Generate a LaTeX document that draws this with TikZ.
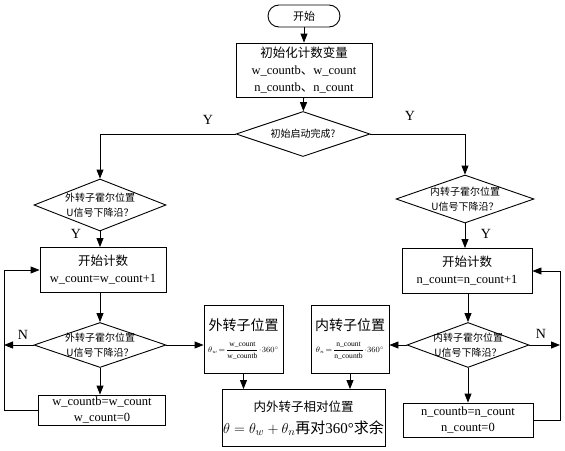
\documentclass[tikz,border=0pt]{standalone}
\usepackage{fontspec}
\setmainfont{Liberation Serif}
\newfontfamily\cjk{Noto Sans CJK SC}
\usetikzlibrary{shapes.geometric,arrows.meta}
\begin{document}
\begin{tikzpicture}[x=1pt,y=-1pt,line width=0.9pt,
  box/.style={draw, rectangle, inner sep=0pt, align=center, font=\fontsize{12.5}{17}\selectfont},
  dia/.style={draw, diamond, inner sep=0pt},
  dtext/.style={align=center, font=\fontsize{10}{15}\selectfont\cjk},
  arr/.style={-{Triangle[length=9pt,width=7pt]}},
  lbl/.style={font=\fontsize{14}{14}\selectfont}]
\useasboundingbox (0,0) rectangle (565,450);

% nodes
\node[box, rounded corners=11pt, minimum width=72pt, minimum height=22pt, font=\fontsize{11}{11}\selectfont\cjk] (start) at (304,16) {开始};
\node[box, minimum width=136pt, minimum height=54pt] (init) at (304,70)
  {{\cjk 初始化计数变量}\\ w\_countb{\cjk 、}w\_count\\ n\_countb{\cjk 、}n\_count};

\node[dia, minimum width=134pt, minimum height=45pt] (d0) at (303,134) {};
\node[dtext] (t0) at (d0) {初始启动完成?};

\node[dia, minimum width=132pt, minimum height=52pt] (dl1) at (100,205) {};
\node[dtext] (tl1) at (dl1) {外转子霍尔位置\\U信号下降沿？};
\node[dia, minimum width=138pt, minimum height=48pt] (dr1) at (465,199) {};
\node[dtext] (tr1) at (dr1) {内转子霍尔位置\\U信号下降沿？};

\node[box, minimum width=126pt, minimum height=45pt] (bl1) at (103,270)
  {{\cjk 开始计数}\\ w\_count=w\_count+1};
\node[box, minimum width=130pt, minimum height=45pt] (br1) at (467,271)
  {{\cjk 开始计数}\\ n\_count=n\_count+1};

\node[dia, minimum width=132pt, minimum height=45pt] (dl2) at (100,345) {};
\node[dtext] (tl2) at (dl2) {外转子霍尔位置\\U信号下降沿？};
\node[dia, minimum width=122pt, minimum height=45pt] (dr2) at (468,345) {};
\node[dtext] (tr2) at (dr2) {内转子霍尔位置\\U信号下降沿？};

\node[box, minimum width=127pt, minimum height=30pt, font=\fontsize{12.5}{16}\selectfont] (bl2) at (102,410)
  {w\_countb=w\_count\\ w\_count=0};
\node[box, minimum width=130pt, minimum height=34pt, font=\fontsize{12.5}{16}\selectfont] (br2) at (468,420)
  {n\_countb=n\_count\\ n\_count=0};

\node[box, minimum width=79pt, minimum height=68pt] (mo) at (243.5,339)
  {{\cjk\fontsize{14}{14}\selectfont 外转子位置}\\[5pt]
   {\fontsize{7.6}{9}\selectfont $\theta_{w}\!=\!\displaystyle\frac{\mbox{w\_count}}{\mbox{w\_countb}}\!\cdot\!360^{\circ}$}};
\node[box, minimum width=78pt, minimum height=68pt] (mi) at (350,339)
  {{\cjk\fontsize{14}{14}\selectfont 内转子位置}\\[5pt]
   {\fontsize{7.6}{9}\selectfont $\theta_{n}\!=\!\displaystyle\frac{\mbox{n\_count}}{\mbox{n\_countb}}\!\cdot\!360^{\circ}$}};

\node[box, minimum width=163pt, minimum height=57pt] (res) at (303.5,418)
  {{\cjk\fontsize{12.5}{14}\selectfont 内外转子相对位置}\\[5pt]
   {\fontsize{15}{15}\selectfont $\theta=\theta_{w}+\theta_{n}${\cjk 再对}360°{\cjk 求余}}};

\coordinate (lx) at (4,0);
\coordinate (rx) at (560,0);

% labels
\node[lbl] (y1) at (208,120) {Y};
\node[lbl] (y2) at (410,116) {Y};
\node[lbl] (y3) at (76,234) {Y};
\node[lbl] (y4) at (486,234) {Y};
\node[lbl] (n1) at (23,335) {N};
\node[lbl] (n2) at (541,334) {N};

% connectors
\draw[arr] (start) -- (init);
\draw[arr] (init) -- (d0);
\draw[arr] (d0.west) -| (dl1.north);
\draw[arr] (d0.east) -| (dr1.north);
\draw[arr] (dl1.south) -- (dl1.south |- bl1.north);
\draw[arr] (dr1.south) -- (dr1.south |- br1.north);
\draw[arr] (dl1.south |- bl1.south) -- (dl2.north);
\draw[arr] (dr2.north |- br1.south) -- (dr2.north);
\draw[arr] (dl2.south) -- (dl2.south |- bl2.north);
\draw[arr] (dr2.south) -- (dr2.south |- br2.north);
\draw[arr] (dl2.west) -- (dl2.west -| lx);
\draw[arr] (bl2.west) -- (bl2.west -| lx) -- (bl1.west -| lx) -- (bl1.west);
\draw[arr] (dr2.east) -- (dr2.east -| rx);
\draw[arr] (br2.east) -- (br2.east -| rx) -- (br1.east -| rx) -- (br1.east);
\draw[arr] (dl2.east) -- (dl2.east -| mo.west);
\draw[arr] (dr2.west) -- (dr2.west -| mi.east);
\draw[arr] (mo.south) -- (mo.south |- res.north);
\draw[arr] (mi.south) -- (mi.south |- res.north);
\end{tikzpicture}
\end{document}
